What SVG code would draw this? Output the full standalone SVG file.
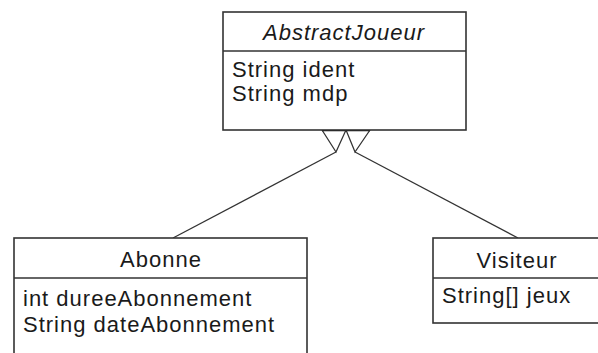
<svg xmlns="http://www.w3.org/2000/svg" width="598" height="353" viewBox="0 0 598 353">
<style>
.box{fill:#fff;stroke:#333;stroke-width:1.6}
.div{stroke:#333;stroke-width:1.6}
.t{font-family:"Liberation Sans",Arial,sans-serif;font-size:22px;letter-spacing:1px;fill:#1a1a1a}
.c{text-anchor:middle}
.i{font-style:italic}
.con{stroke:#333;stroke-width:1.3;fill:none}
.head{fill:#fff;stroke:#333;stroke-width:1.3}
</style>
<rect width="598" height="353" fill="#fff"/>
<g id="connectors">
<line class="con" x1="336" y1="152" x2="173" y2="238"/>
<line class="con" x1="355" y1="152" x2="518" y2="238"/>
<polygon class="head" points="322,130 346,130 336,152"/>
<polygon class="head" points="346,130 370,130 355,152"/>
<line x1="322" y1="130" x2="370" y2="130" stroke="#111" stroke-width="2.4"/>
</g>
<g id="AbstractJoueur">
<rect class="box" x="223" y="12" width="243" height="118"/>
<line class="div" x1="223" y1="51" x2="466" y2="51"/>
<text class="t c i" x="344" y="40">AbstractJoueur</text>
<text class="t" x="232" y="77">String ident</text>
<text class="t" x="232" y="101">String mdp</text>
</g>
<g id="Abonne">
<rect class="box" x="14" y="238" width="293" height="130"/>
<line class="div" x1="14" y1="278" x2="307" y2="278"/>
<text class="t c" x="161" y="267">Abonne</text>
<text class="t" x="23" y="306">int dureeAbonnement</text>
<text class="t" x="23" y="332">String dateAbonnement</text>
</g>
<g id="Visiteur">
<rect class="box" x="433" y="238" width="168" height="85"/>
<line class="div" x1="433" y1="278" x2="601" y2="278"/>
<text class="t c" x="517" y="268">Visiteur</text>
<text class="t" x="442" y="303">String[] jeux</text>
</g>
</svg>
